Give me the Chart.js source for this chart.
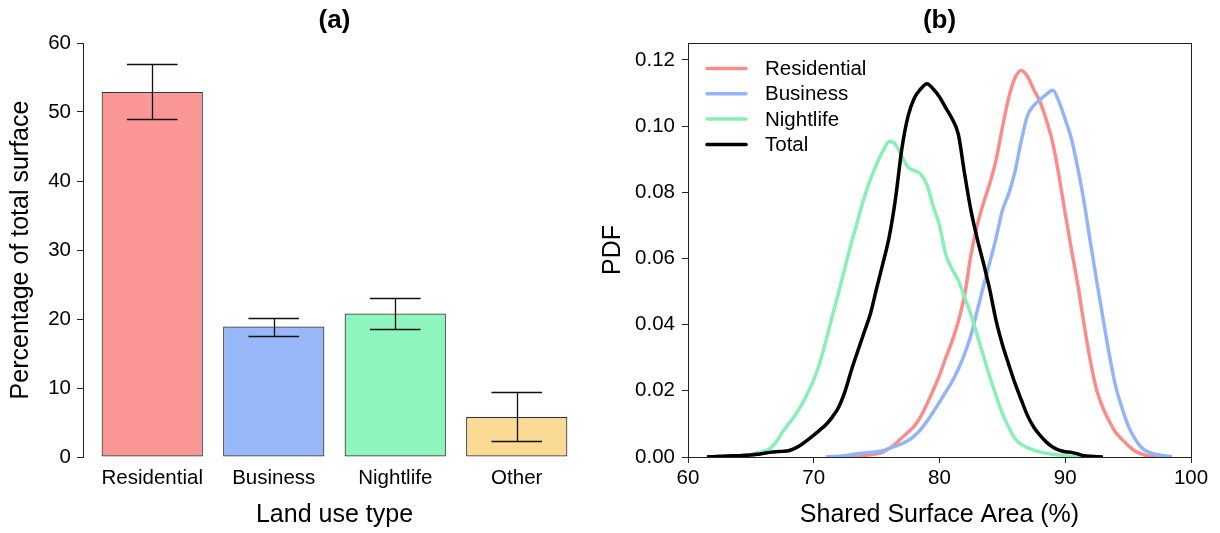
<!DOCTYPE html>
<html><head><meta charset="utf-8">
<script src="https://cdn.jsdelivr.net/npm/chart.js@4.4.1/dist/chart.umd.min.js"></script>
<style>
html,body{margin:0;padding:0;background:#fff;}
#wrap{position:relative;width:1220px;height:533px;overflow:hidden;}
#c1{position:absolute;left:0;top:0;}
#c2{position:absolute;left:590px;top:0;}
</style></head><body>
<div id="wrap"><canvas id="c1" width="590" height="533"></canvas><canvas id="c2" width="630" height="533"></canvas></div>
<script>
// ---- Panel (a) data ----
const landUseTypes = ['Residential', 'Business', 'Nightlife', 'Other'];
const barPositions = [0.7, 1.9, 3.1, 4.3];
const surfaceShare = [52.9, 18.9, 20.8, 5.8];
const surfaceLow   = [49.0, 17.5, 18.5, 2.25];
const surfaceHigh  = [56.9, 20.2, 23.0, 9.35];
const barColors = ['#FA9696', '#99B8FA', '#8FF5BF', '#FADA94'];
const shareTicks = [0, 10, 20, 30, 40, 50, 60];

// ---- Panel (b) data ----
const sharedArea = [61.5, 62, 62.5, 63, 63.5, 64, 64.5, 65, 65.5, 66, 66.5, 67, 67.5, 68, 68.5, 69, 69.5, 70, 70.5,
  71, 71.5, 72, 72.5, 73, 73.5, 74, 74.5, 75, 75.5, 76, 76.5, 77, 77.5, 78, 78.5, 79, 79.5, 80, 80.5,
  81, 81.5, 82, 82.5, 83, 83.5, 84, 84.5, 85, 85.5, 86, 86.5, 87, 87.5, 88, 88.5, 89, 89.5, 90, 90.5,
  91, 91.5, 92, 92.5, 93, 93.5, 94, 94.5, 95, 95.5, 96, 96.5, 97, 97.5, 98, 98.5];
const pdfResidential = [null, null, null, null, null, null, null, null, null, null, null, null, null, null, null, null, null, null, null,
  0.0000, 0.0001, 0.0001, 0.0002, 0.0003, 0.0004, 0.0005, 0.0007, 0.0010, 0.0015, 0.0026, 0.0040, 0.0058, 0.0075, 0.0093, 0.0122, 0.0160, 0.0202, 0.0247, 0.0300,
  0.0350, 0.0410, 0.0490, 0.0610, 0.0700, 0.0768, 0.0827, 0.0898, 0.0995, 0.1085, 0.1145, 0.1168, 0.1150, 0.1110, 0.1073, 0.1018, 0.0950, 0.0850, 0.0735, 0.0625,
  0.0520, 0.0400, 0.0290, 0.0202, 0.0148, 0.0108, 0.0075, 0.0054, 0.0035, 0.0019, 0.0010, 0.0004, 0.0001, 0.0000, null, null];
const pdfBusiness = [null, null, null, null, null, null, null, null, null, null, null, null, null, null, null, null, null, null, null,
  0.0000, 0.0001, 0.0002, 0.0004, 0.0007, 0.0010, 0.0012, 0.0014, 0.0016, 0.0019, 0.0026, 0.0033, 0.0040, 0.0050, 0.0064, 0.0083, 0.0108, 0.0136, 0.0166, 0.0197,
  0.0228, 0.0266, 0.0312, 0.0368, 0.0442, 0.0517, 0.0588, 0.0662, 0.0745, 0.0795, 0.0862, 0.0955, 0.1032, 0.1062, 0.1080, 0.1096, 0.1108, 0.1074, 0.1020, 0.0960,
  0.0872, 0.0770, 0.0648, 0.0532, 0.0420, 0.0310, 0.0215, 0.0150, 0.0095, 0.0058, 0.0031, 0.0017, 0.0010, 0.0006, 0.0003, 0.0001];
const pdfNightlife = [null, 0.0000, 0.0001, 0.0001, 0.0002, 0.0003, 0.0005, 0.0008, 0.0012, 0.0017, 0.0025, 0.0045, 0.0075, 0.0100, 0.0125, 0.0155, 0.0192, 0.0233, 0.0287,
  0.0355, 0.0430, 0.0500, 0.0575, 0.0648, 0.0715, 0.0782, 0.0838, 0.0885, 0.0925, 0.0953, 0.0945, 0.0908, 0.0876, 0.0865, 0.0855, 0.0822, 0.0758, 0.0700, 0.0612,
  0.0568, 0.0533, 0.0483, 0.0430, 0.0368, 0.0305, 0.0242, 0.0185, 0.0132, 0.0090, 0.0056, 0.0038, 0.0028, 0.0021, 0.0015, 0.0011, 0.0008, 0.0006, 0.0004, 0.0002,
  0.0001, 0.0000, null, null, null, null, null, null, null, null, null, null, null, null, null, null];
const pdfTotal = [0.0000, 0.0001, 0.0002, 0.0003, 0.0004, 0.0004, 0.0005, 0.0006, 0.0008, 0.0011, 0.0014, 0.0016, 0.0017, 0.0019, 0.0026, 0.0037, 0.0051, 0.0066, 0.0082,
  0.0099, 0.0122, 0.0152, 0.0200, 0.0263, 0.0320, 0.0376, 0.0432, 0.0510, 0.0585, 0.0665, 0.0780, 0.0930, 0.1030, 0.1085, 0.1112, 0.1128, 0.1112, 0.1088, 0.1055,
  0.1022, 0.0975, 0.0855, 0.0745, 0.0660, 0.0585, 0.0505, 0.0412, 0.0340, 0.0280, 0.0223, 0.0173, 0.0125, 0.0090, 0.0065, 0.0045, 0.0030, 0.0021, 0.0016, 0.0014,
  0.0009, 0.0004, 0.0002, 0.0001, 0.0000, null, null, null, null, null, null, null, null, null, null, null];
const seriesNames = ['Residential', 'Business', 'Nightlife', 'Total'];
const lineColors = ['#FA8C8C', '#94B4FA', '#88F0B6', '#000000'];
const areaTicks = [60, 70, 80, 90, 100];
const pdfTicks = [0, 0.02, 0.04, 0.06, 0.08, 0.10, 0.12];

Chart.defaults.font.family = '"Liberation Sans", Arial, Helvetica, sans-serif';
Chart.defaults.color = '#000';

const tickFont = {size: 20.5};
const axisTitleFont = {size: 25};
const titleFont = {size: 26, weight: 'bold'};
const axisColor = '#222';

const errorBars = {
  id: 'errorBars',
  afterDatasetsDraw(chart) {
    const {ctx, scales: {x, y}} = chart;
    ctx.save();
    ctx.strokeStyle = '#111';
    ctx.lineWidth = 1.3;
    barPositions.forEach((p, i) => {
      const cx = Math.round(x.getPixelForValue(p)) + 0.5;
      const l = x.getPixelForValue(p - 0.25), r = x.getPixelForValue(p + 0.25);
      const yl = Math.round(y.getPixelForValue(surfaceLow[i])) + 0.5;
      const yh = Math.round(y.getPixelForValue(surfaceHigh[i])) + 0.5;
      ctx.beginPath();
      ctx.moveTo(cx, yl); ctx.lineTo(cx, yh);
      ctx.moveTo(l, yh); ctx.lineTo(r, yh);
      ctx.moveTo(l, yl); ctx.lineTo(r, yl);
      ctx.stroke();
    });
    ctx.restore();
  }
};

new Chart(document.getElementById('c1'), {
  type: 'bar',
  data: {
    datasets: [{
      data: barPositions.map((x, i) => ({x, y: surfaceShare[i]})),
      backgroundColor: barColors,
      borderColor: '#333',
      borderWidth: 1.2,
      borderSkipped: false,
      categoryPercentage: 1 / 1.2,
      barPercentage: 1
    }]
  },
  options: {
    responsive: false, animation: false, devicePixelRatio: 1,
    layout: {padding: {left: 0, right: 4, top: 0, bottom: 0}},
    plugins: {
      legend: {display: false}, tooltip: {enabled: false},
      title: {display: true, text: '(a)', font: titleFont, color: '#000', fullSize: false, padding: {top: 5, bottom: 6.8}}
    },
    scales: {
      x: {
        type: 'linear', min: 0.016, max: 4.984, offset: false,
        afterBuildTicks: s => { s.ticks = barPositions.map(v => ({value: v})); },
        ticks: {font: tickFont, color: '#000', padding: 9, autoSkip: false, maxRotation: 0,
          callback: (v, i) => landUseTypes[i]},
        grid: {display: false, drawTicks: false, offset: false},
        border: {display: false},
        title: {display: true, text: 'Land use type', font: axisTitleFont, color: '#000', padding: {top: 0, bottom: 3}},
        afterFit: s => { s.height = 76; }
      },
      y: {
        min: 0, max: 60,
        afterBuildTicks: s => { s.ticks = shareTicks.map(v => ({value: v})); },
        ticks: {font: tickFont, color: '#000', padding: 6},
        grid: {display: true, drawOnChartArea: false, drawTicks: true, tickLength: 6, color: axisColor},
        border: {display: true, color: axisColor, width: 1},
        title: {display: true, text: 'Percentage of total surface', font: axisTitleFont, color: '#000', padding: {top: 6, bottom: 0}},
        afterFit: s => { s.width = 83; }
      }
    }
  },
  plugins: [errorBars]
});

const frameAndLegend = {
  id: 'frameAndLegend',
  afterDraw(chart) {
    const {ctx, chartArea: a} = chart;
    ctx.save();
    ctx.strokeStyle = axisColor;
    ctx.lineWidth = 1;
    ctx.strokeRect(Math.round(a.left) + 0.5, Math.round(a.top) + 0.5, Math.round(a.right - a.left), Math.round(a.bottom - a.top));
    ctx.font = '20.5px "Liberation Sans", Arial, sans-serif';
    ctx.textBaseline = 'middle';
    ctx.textAlign = 'left';
    chart.data.datasets.forEach((ds, i) => {
      const y = a.top + 25.5 + i * 25.3;
      ctx.strokeStyle = ds.borderColor;
      ctx.lineWidth = 3.5;
      ctx.lineCap = 'round';
      ctx.beginPath();
      ctx.moveTo(a.left + 19, y); ctx.lineTo(a.left + 58, y);
      ctx.stroke();
      ctx.fillStyle = '#000';
      ctx.fillText(ds.label, a.left + 77, y + 1);
    });
    ctx.restore();
  }
};

const pdfSeries = [pdfResidential, pdfBusiness, pdfNightlife, pdfTotal];
const toPoints = vals => sharedArea.map((x, i) => ({x, y: vals[i]})).filter(p => p.y !== null);

new Chart(document.getElementById('c2'), {
  type: 'line',
  data: {
    datasets: pdfSeries.map((vals, i) => ({
      label: seriesNames[i],
      data: toPoints(vals),
      borderColor: lineColors[i],
      borderWidth: 3.5,
      pointRadius: 0,
      fill: false,
      cubicInterpolationMode: 'monotone',
      borderJoinStyle: 'round',
      order: 3 - i
    }))
  },
  options: {
    responsive: false, animation: false, devicePixelRatio: 1,
    layout: {padding: {left: 0, right: 29, top: 0, bottom: 0}},
    plugins: {
      legend: {display: false}, tooltip: {enabled: false},
      title: {display: true, text: '(b)', font: titleFont, color: '#000', fullSize: false, padding: {top: 5, bottom: 6.8}}
    },
    scales: {
      x: {
        type: 'linear', min: 60, max: 100,
        afterBuildTicks: s => { s.ticks = areaTicks.map(v => ({value: v})); },
        ticks: {font: tickFont, color: '#000', padding: 3, autoSkip: false, maxRotation: 0,
          callback: v => String(v)},
        grid: {display: true, drawOnChartArea: false, drawTicks: true, tickLength: 6, color: axisColor},
        border: {display: true, color: axisColor, width: 1},
        title: {display: true, text: 'Shared Surface Area (%)', font: axisTitleFont, color: '#000', padding: {top: 0, bottom: 3}},
        afterFit: s => { s.height = 76; }
      },
      y: {
        min: 0, max: 0.1251,
        afterBuildTicks: s => { s.ticks = pdfTicks.map(v => ({value: v})); },
        ticks: {font: tickFont, color: '#000', padding: 7, callback: v => v.toFixed(2)},
        grid: {display: true, drawOnChartArea: false, drawTicks: true, tickLength: 6, color: axisColor},
        border: {display: true, color: axisColor, width: 1},
        title: {display: true, text: 'PDF', font: axisTitleFont, color: '#000', padding: {top: 8, bottom: 0}},
        afterFit: s => { s.width = 98; }
      }
    }
  },
  plugins: [frameAndLegend]
});
</script>
</body></html>
